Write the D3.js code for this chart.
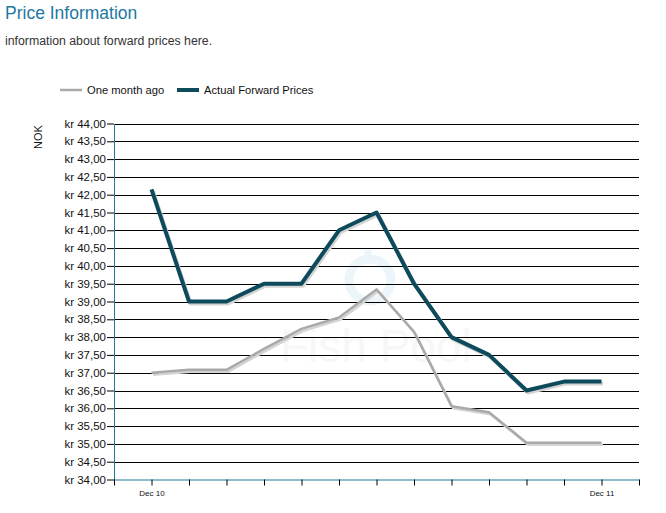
<!DOCTYPE html>
<html>
<head>
<meta charset="utf-8">
<script src="https://cdn.jsdelivr.net/npm/d3@7"></script>
<style>
  body { margin: 0; background: #fff; font-family: Arial, "Liberation Sans", sans-serif; }
  svg text { font-family: Arial, "Liberation Sans", sans-serif; }
</style>
</head>
<body>
<script>
var width = 666,
    height = 513;

var months = ['Dec 10', 'Jan 11', 'Feb 11', 'Mar 11', 'Apr 11', 'May 11', 'Jun 11',
              'Jul 11', 'Aug 11', 'Sep 11', 'Oct 11', 'Nov 11', 'Dec 11'];
var shownLabels = ['Dec 10', 'Dec 11'];

var monthAgo = [37.00, 37.08, 37.08, 37.67, 38.23, 38.55, 39.34, 38.15, 36.06, 35.89, 35.03, 35.03, 35.03];
var actual = [42.15, 39.00, 39.00, 39.50, 39.50, 41.00, 41.50, 39.50, 38.00, 37.50, 36.50, 36.75, 36.75];

var yTicks = d3.range(34, 44.01, 0.5);

var plotLeft = 114, plotRight = 639, plotTop = 123.5, plotBottom = 479.5;

var svg = d3.select('body')
    .append('svg')
    .attr('width', width)
    .attr('height', height);

// header
svg.append('text')
    .attr('x', 5).attr('y', 19)
    .attr('font-size', 17.5)
    .attr('fill', '#1e78a0')
    .text('Price Information');

svg.append('text')
    .attr('x', 5).attr('y', 45)
    .attr('font-size', 12.3)
    .attr('fill', '#333')
    .text('information about forward prices here.');

// legend
var legend = [
    { name: 'One month ago', color: '#aaaaaa', w: 2.5, x: 60 },
    { name: 'Actual Forward Prices', color: '#0d4b5c', w: 4, x: 177 }
];
legend.forEach(function (d) {
    svg.append('line')
        .attr('x1', d.x).attr('x2', d.x + 22)
        .attr('y1', 90).attr('y2', 90)
        .attr('stroke', d.color)
        .attr('stroke-width', d.w);
    svg.append('text')
        .attr('x', d.x + 27).attr('y', 94)
        .attr('font-size', 11.2)
        .attr('fill', '#111')
        .text(d.name);
});

var x = d3.scaleLinear().domain([-1, months.length]).range([plotLeft, plotRight]);
var y = d3.scaleLinear().domain([34, 44]).range([plotBottom, plotTop]);

// watermark
var wm = svg.append('g').attr('opacity', 0.45);
wm.append('circle')
    .attr('cx', 370).attr('cy', 280).attr('r', 21)
    .attr('fill', 'none')
    .attr('stroke', '#d6ebf5')
    .attr('stroke-width', 9);
wm.append('circle')
    .attr('cx', 368).attr('cy', 254).attr('r', 4)
    .attr('fill', '#d6ebf5');
wm.append('text')
    .attr('x', 280).attr('y', 362)
    .attr('font-size', 46)
    .attr('fill', '#eeeeee')
    .text('Fish Pool');

// grid
svg.append('g')
    .selectAll('line')
    .data(yTicks.filter(function (d) { return d > 34; }))
    .enter()
    .append('line')
    .attr('x1', plotLeft).attr('x2', plotRight)
    .attr('y1', function (d) { return Math.round(y(d)) + 0.5; })
    .attr('y2', function (d) { return Math.round(y(d)) + 0.5; })
    .attr('stroke', '#000')
    .attr('stroke-width', 1);

// y axis
var yAxis = d3.axisLeft(y)
    .tickValues(yTicks)
    .tickSize(7)
    .tickSizeOuter(0)
    .tickFormat(function (d) { return 'kr ' + d3.format('.2f')(d).replace('.', ','); });

var ya = svg.append('g')
    .attr('transform', 'translate(' + plotLeft + ',0)')
    .call(yAxis);
ya.select('.domain').attr('stroke', '#1f7a9a');
ya.selectAll('.tick line').attr('stroke', '#000');
ya.selectAll('.tick text')
    .attr('font-size', 11.5)
    .attr('fill', '#111')
    .attr('x', -8);

// x axis
var xAxis = d3.axisBottom(x)
    .tickValues(d3.range(-1, months.length + 1))
    .tickSize(6)
    .tickSizeOuter(0)
    .tickFormat(function (d) {
        var m = months[d];
        return shownLabels.indexOf(m) >= 0 ? m : '';
    });

var xa = svg.append('g')
    .attr('transform', 'translate(0,' + plotBottom + ')')
    .call(xAxis);
xa.select('.domain').attr('stroke', '#1f7a9a');
xa.selectAll('.tick line').attr('stroke', '#000');
xa.selectAll('.tick text')
    .attr('font-size', 8)
    .attr('fill', '#111')
    .attr('dy', '0.9em');

// axis titles
svg.append('text')
    .attr('transform', 'translate(42,137) rotate(-90)')
    .attr('text-anchor', 'middle')
    .attr('font-size', 11)
    .attr('fill', '#111')
    .text('NOK');

svg.append('text')
    .attr('x', 376).attr('y', 522)
    .attr('text-anchor', 'middle')
    .attr('font-size', 12)
    .attr('fill', '#111')
    .text('Month');

// lines
var line = d3.line()
    .x(function (d, i) { return x(i); })
    .y(function (d) { return y(d); });

var series = [
    { values: monthAgo, color: '#a9a9a9', w: 2.5 },
    { values: actual, color: '#0d4b5c', w: 4 }
];

series.forEach(function (s) {
    svg.append('path')
        .datum(s.values)
        .attr('d', line)
        .attr('transform', 'translate(1.5,2)')
        .attr('fill', 'none')
        .attr('stroke', '#d4d4d4')
        .attr('stroke-width', s.w)
        .attr('stroke-linejoin', 'round');
    svg.append('path')
        .datum(s.values)
        .attr('d', line)
        .attr('fill', 'none')
        .attr('stroke', s.color)
        .attr('stroke-width', s.w)
        .attr('stroke-linejoin', 'round');
});
</script>
</body>
</html>
